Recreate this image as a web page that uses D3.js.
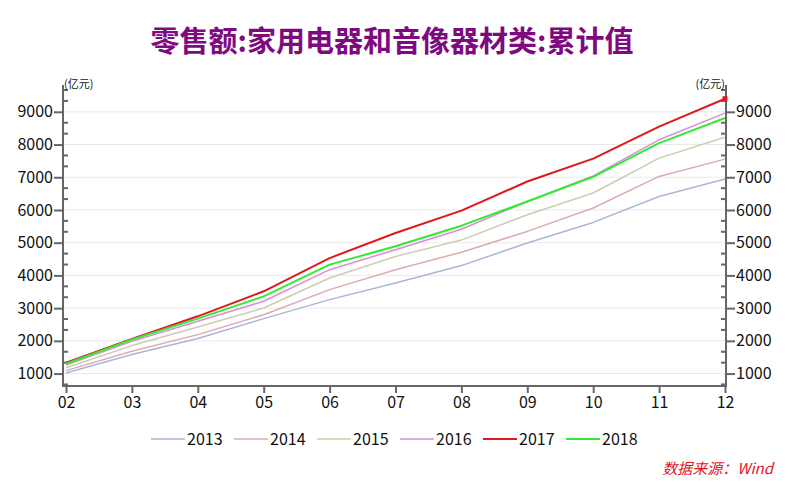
<!DOCTYPE html>
<html>
<head>
<meta charset="utf-8">
<script src="https://cdn.jsdelivr.net/npm/d3@7"></script>
<style>
  body { margin: 0; background: #fff; }
  svg { display: block; font-family: "Noto Sans CJK SC", "Noto Sans", sans-serif; }
</style>
</head>
<body>
<div id="chart"></div>
<script>
// months (x categories)
var months = ["02", "03", "04", "05", "06", "07", "08", "09", "10", "11", "12"];

// cumulative retail sales, 100 million yuan
var s2013 = [1020, 1580, 2070, 2680, 3260, 3770, 4300, 4990, 5620, 6410, 6945];
var s2014 = [1090, 1680, 2190, 2800, 3565, 4175, 4710, 5345, 6060, 7025, 7555];
var s2015 = [1180, 1855, 2425, 3005, 3920, 4580, 5080, 5855, 6520, 7585, 8225];
var s2016 = [1260, 1985, 2600, 3210, 4175, 4785, 5410, 6260, 7040, 8145, 8960];
var s2017 = [1330, 2060, 2750, 3515, 4530, 5295, 5980, 6870, 7570, 8550, 9400];
var s2018 = [1300, 2040, 2680, 3360, 4330, 4890, 5520, 6260, 7015, 8045, 8810];

var seriesNames = ["2013", "2014", "2015", "2016", "2017", "2018"];
var seriesData = [s2013, s2014, s2015, s2016, s2017, s2018];
var seriesColors = ["#a8b7d8", "#dcabb2", "#cacdb2", "#d98ed8", "#e0181c", "#33ea33"];
var seriesWidths = [1.5, 1.5, 1.5, 1.5, 2, 2];

var yTicks = [1000, 2000, 3000, 4000, 5000, 6000, 7000, 8000, 9000];

var width = 792, height = 482;
var plotLeft = 63, plotRight = 726, plotTop = 85, plotBottom = 386;

var svg = d3.select("#chart").append("svg")
    .attr("width", width)
    .attr("height", height);

var x = d3.scalePoint()
    .domain(months)
    .range([66, plotRight - 1]);

var y = d3.scaleLinear()
    .domain([620, 9820])
    .range([plotBottom, plotTop]);

// title
svg.append("text")
    .attr("x", 392)
    .attr("y", 52)
    .attr("text-anchor", "middle")
    .attr("font-size", 29)
    .attr("font-weight", "bold")
    .attr("fill", "#7f0a80")
    .text("零售额:家用电器和音像器材类:累计值");

// grid
svg.append("g")
    .selectAll("line")
    .data(yTicks)
    .enter().append("line")
    .attr("x1", plotLeft)
    .attr("x2", plotRight)
    .attr("y1", function(d){ return y(d); })
    .attr("y2", function(d){ return y(d); })
    .attr("stroke", "#e9e9e9")
    .attr("stroke-width", 1);

// minor ticks (every third of 1000)
var minorTicks = d3.range(2000 / 3, 9800, 1000 / 3).filter(function(d){
    return Math.abs(d / 1000 - Math.round(d / 1000)) > 0.01;
});

var axisColor = "#666";

// left axis
var leftAxis = svg.append("g")
    .attr("transform", "translate(" + plotLeft + ",0)")
    .call(d3.axisLeft(y).tickValues(yTicks).tickSize(9).tickPadding(1).tickFormat(d3.format("d")));
leftAxis.select(".domain").remove();
leftAxis.selectAll(".tick line").attr("stroke", axisColor).attr("stroke-width", 2);
leftAxis.selectAll(".tick text").attr("font-size", 16).attr("fill", "#111")
    .attr("font-family", "Noto Sans CJK SC");
leftAxis.append("line")
    .attr("y1", plotTop).attr("y2", plotBottom + 1)
    .attr("stroke", axisColor).attr("stroke-width", 2);
leftAxis.selectAll(".minor")
    .data(minorTicks)
    .enter().append("line")
    .attr("class", "minor")
    .attr("x1", 0).attr("x2", 5)
    .attr("y1", function(d){ return y(d); })
    .attr("y2", function(d){ return y(d); })
    .attr("stroke", axisColor).attr("stroke-width", 2);

// right axis
var rightAxis = svg.append("g")
    .attr("transform", "translate(" + plotRight + ",0)")
    .call(d3.axisRight(y).tickValues(yTicks).tickSize(9).tickPadding(1).tickFormat(d3.format("d")));
rightAxis.select(".domain").remove();
rightAxis.selectAll(".tick line").attr("stroke", axisColor).attr("stroke-width", 2);
rightAxis.selectAll(".tick text").attr("font-size", 16).attr("fill", "#111")
    .attr("font-family", "Noto Sans CJK SC");
rightAxis.append("line")
    .attr("y1", plotTop).attr("y2", plotBottom + 1)
    .attr("stroke", axisColor).attr("stroke-width", 2);
rightAxis.selectAll(".minor")
    .data(minorTicks)
    .enter().append("line")
    .attr("class", "minor")
    .attr("x1", -5).attr("x2", 0)
    .attr("y1", function(d){ return y(d); })
    .attr("y2", function(d){ return y(d); })
    .attr("stroke", axisColor).attr("stroke-width", 2);

// unit labels
svg.append("text")
    .attr("x", plotLeft + 1).attr("y", 88)
    .attr("font-size", 11).attr("fill", "#111")
    .text("(亿元)");
svg.append("text")
    .attr("x", plotRight - 1).attr("y", 88)
    .attr("text-anchor", "end")
    .attr("font-size", 11).attr("fill", "#111")
    .text("(亿元)");

// x axis
var xAxis = svg.append("g")
    .attr("transform", "translate(0," + plotBottom + ")")
    .call(d3.axisBottom(x).tickSize(7).tickPadding(4));
xAxis.select(".domain").remove();
xAxis.selectAll(".tick line").attr("stroke", axisColor).attr("stroke-width", 2);
xAxis.selectAll(".tick text").attr("font-size", 16).attr("fill", "#111")
    .attr("font-family", "Noto Sans CJK SC");
xAxis.append("line")
    .attr("x1", plotLeft - 1).attr("x2", plotRight + 1)
    .attr("stroke", axisColor).attr("stroke-width", 2);

// series lines
var line = d3.line()
    .x(function(d, i){ return x(months[i]); })
    .y(function(d){ return y(d); });

svg.append("g")
    .selectAll("path")
    .data(seriesData)
    .enter().append("path")
    .attr("d", line)
    .attr("fill", "none")
    .attr("stroke", function(d, i){ return seriesColors[i]; })
    .attr("stroke-width", function(d, i){ return seriesWidths[i]; })
    .attr("stroke-linejoin", "round");

// end marker on 2017
var last = s2017[s2017.length - 1];
svg.append("rect")
    .attr("x", x(months[months.length - 1]) - 2.5)
    .attr("y", y(last) - 2.5)
    .attr("width", 5).attr("height", 5)
    .attr("fill", "#e0181c");

// legend
var legend = svg.append("g")
    .attr("transform", "translate(151,439)");
var item = legend.selectAll("g")
    .data(seriesNames)
    .enter().append("g")
    .attr("transform", function(d, i){ return "translate(" + (i * 83) + ",0)"; });
item.append("line")
    .attr("x1", 0).attr("x2", 34)
    .attr("stroke", function(d, i){ return seriesColors[i]; })
    .attr("stroke-width", function(d, i){ return seriesWidths[i]; });
item.append("text")
    .attr("x", 36).attr("y", 6)
    .attr("font-size", 16).attr("fill", "#111")
    .text(function(d){ return d; });

// source
svg.append("text")
    .attr("x", 773).attr("y", 474)
    .attr("text-anchor", "end")
    .attr("font-size", 15)
    .attr("font-style", "italic")
    .attr("fill", "#e0161d")
    .text("数据来源：Wind");
</script>
</body>
</html>
